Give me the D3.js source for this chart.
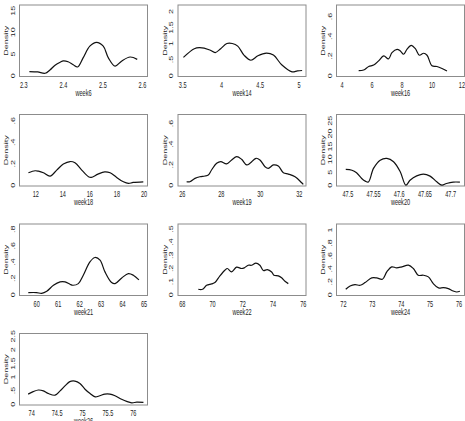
<!DOCTYPE html>
<html>
<head>
<meta charset="utf-8">
<script src="https://cdnjs.cloudflare.com/ajax/libs/d3/7.8.5/d3.min.js"></script>
<style>
  body { margin: 0; background: #fff; }
  text { font-family: 'Liberation Sans', Arial, sans-serif; font-size: 9px; fill: #222; }
</style>
</head>
<body>
<div id="chart"></div>
<script>
// panel names, in reading order
const weeks = ['week6', 'week14', 'week16', 'week18', 'week19', 'week20', 'week21', 'week22', 'week24', 'week26'];

// x range of each box and its tick marks
const xDomains = [[2.289, 2.613], [3.44, 5.09], [3.63, 12.17], [10.8, 20.26], [25.78, 32.34],
  [47.478, 47.727], [59.2, 65.16], [67.72, 76.18], [71.76, 76.19], [73.76, 76.28]];
const xTicks = [[2.3, 2.4, 2.5, 2.6], [3.5, 4, 4.5, 5], [4, 6, 8, 10, 12], [12, 14, 16, 18, 20], [26, 28, 30, 32],
  [47.5, 47.55, 47.6, 47.65, 47.7], [60, 61, 62, 63, 64, 65], [68, 70, 72, 74, 76], [72, 73, 74, 75, 76],
  [74, 74.5, 75, 75.5, 76]];

// top of each box (density) and y ticks
const yTops = [16.3, 2.2, 0.716, 0.658, 0.689, 27.4, 0.865, 0.538, 1.093, 2.6];
const yTicks = [[0, 5, 10, 15], [0, 0.5, 1, 1.5, 2], [0, 0.2, 0.4, 0.6], [0, 0.2, 0.4, 0.6], [0, 0.2, 0.4, 0.6],
  [0, 5, 10, 15, 20, 25], [0, 0.2, 0.4, 0.6, 0.8], [0, 0.1, 0.2, 0.3, 0.4, 0.5], [0, 0.2, 0.4, 0.6, 0.8, 1],
  [0, 0.5, 1, 1.5, 2, 2.5]];

// density curves
const w6x = [2.314, 2.335, 2.354, 2.366, 2.379, 2.392, 2.400, 2.412, 2.425, 2.436, 2.450, 2.467, 2.484, 2.501, 2.514, 2.531, 2.548, 2.569, 2.587];
const w6y = [0.95, 0.85, 0.55, 1.3, 2.4, 3.1, 3.4, 3.2, 2.5, 2.0, 4.1, 6.8, 7.7, 6.8, 4.1, 2.2, 3.4, 4.3, 3.75];

const w14x = [3.51, 3.65, 3.72, 3.85, 3.92, 3.99, 4.07, 4.14, 4.21, 4.29, 4.38, 4.47, 4.58, 4.67, 4.78, 4.91, 4.98, 5.04];
const w14y = [0.57, 0.84, 0.87, 0.80, 0.72, 0.84, 1.0, 1.0, 0.92, 0.64, 0.48, 0.62, 0.70, 0.64, 0.33, 0.12, 0.15, 0.16];

const w16x = [5.11, 5.44, 5.78, 6.11, 6.44, 6.78, 7.1, 7.33, 7.67, 7.89, 8.11, 8.33, 8.62, 8.89, 9.16, 9.44, 9.67, 10.0, 10.33, 10.67, 11.0];
const w16y = [0.05, 0.057, 0.093, 0.107, 0.15, 0.2, 0.17, 0.233, 0.267, 0.25, 0.217, 0.267, 0.307, 0.273, 0.207, 0.227, 0.207, 0.1, 0.093, 0.073, 0.047];

const w18x = [11.46, 11.95, 12.2, 12.57, 13.06, 13.55, 14.04, 14.54, 14.9, 15.4, 15.9, 16.1, 16.6, 17.1, 17.5, 17.98, 18.48, 18.85, 19.2, 19.95];
const w18y = [0.115, 0.134, 0.13, 0.115, 0.084, 0.14, 0.196, 0.22, 0.208, 0.14, 0.078, 0.072, 0.103, 0.124, 0.115, 0.072, 0.031, 0.016, 0.025, 0.031];

const w19x = [26.22, 26.39, 26.65, 26.9, 27.16, 27.33, 27.5, 27.76, 27.97, 28.27, 28.53, 28.79, 29.04, 29.3, 29.47, 29.78, 29.98, 30.24, 30.41, 30.67, 30.92, 31.18, 31.44, 31.78, 32.12, 32.2];
const w19y = [0.033, 0.033, 0.066, 0.082, 0.089, 0.098, 0.148, 0.213, 0.23, 0.207, 0.246, 0.279, 0.252, 0.197, 0.213, 0.262, 0.246, 0.18, 0.164, 0.197, 0.187, 0.121, 0.108, 0.082, 0.023, 0.007];

const w20x = [47.496, 47.508, 47.517, 47.527, 47.534, 47.540, 47.550, 47.563, 47.576, 47.589, 47.602, 47.613, 47.621, 47.634, 47.647, 47.660, 47.673, 47.683, 47.692, 47.705, 47.718];
const w20y = [6.1, 5.8, 4.8, 2.6, 1.55, 1.2, 6.5, 9.7, 10.4, 9.1, 5.2, 0, 1.9, 3.6, 4.3, 3.5, 1.3, 0, 0.65, 1.17, 1.17];

const w21x = [59.61, 60.0, 60.23, 60.47, 60.78, 61.09, 61.32, 61.55, 61.68, 61.94, 62.17, 62.48, 62.72, 62.95, 63.18, 63.49, 63.65, 63.96, 64.27, 64.5, 64.76];
const w21y = [0.025, 0.025, 0.016, 0.041, 0.115, 0.156, 0.156, 0.127, 0.115, 0.135, 0.238, 0.402, 0.455, 0.422, 0.279, 0.148, 0.135, 0.205, 0.258, 0.238, 0.18];

const w22x = [69.06, 69.34, 69.61, 69.94, 70.16, 70.49, 70.82, 70.98, 71.26, 71.59, 71.92, 72.1, 72.36, 72.58, 72.87, 73.13, 73.36, 73.62, 73.91, 74.06, 74.35, 74.57, 74.79, 75.01];
const w22y = [0.041, 0.041, 0.071, 0.082, 0.092, 0.143, 0.186, 0.199, 0.173, 0.209, 0.199, 0.204, 0.224, 0.224, 0.24, 0.224, 0.184, 0.191, 0.173, 0.148, 0.143, 0.128, 0.102, 0.084];

const w24x = [72.08, 72.23, 72.4, 72.58, 72.75, 72.98, 73.15, 73.35, 73.5, 73.67, 73.84, 74.02, 74.25, 74.42, 74.59, 74.77, 74.94, 75.11, 75.29, 75.46, 75.63, 75.8, 75.92, 76.03];
const w24y = [0.083, 0.135, 0.155, 0.145, 0.187, 0.259, 0.259, 0.238, 0.352, 0.43, 0.415, 0.43, 0.456, 0.404, 0.3, 0.3, 0.275, 0.171, 0.104, 0.109, 0.093, 0.057, 0.041, 0.052];

const w26x = [73.93, 74.03, 74.13, 74.23, 74.33, 74.46, 74.56, 74.66, 74.75, 74.85, 74.95, 75.05, 75.15, 75.25, 75.34, 75.44, 75.54, 75.64, 75.77, 75.87, 75.97, 76.07, 76.2];
const w26y = [0.37, 0.46, 0.52, 0.49, 0.39, 0.33, 0.49, 0.68, 0.83, 0.85, 0.76, 0.55, 0.39, 0.27, 0.31, 0.37, 0.37, 0.31, 0.18, 0.1, 0.05, 0.074, 0.062];

const curvesX = [w6x, w14x, w16x, w18x, w19x, w20x, w21x, w22x, w24x, w26x];
const curvesY = [w6y, w14y, w16y, w18y, w19y, w20y, w21y, w22y, w24y, w26y];

const width = 465;
const height = 421;
const colLeft = [19.5, 178, 336.5];
const rowTop = [5, 114.5, 224, 333.5];
const boxW = 128;
const boxH = 71.5;
const squeeze = 0.62; // text in the picture is narrow

const fmt = (v) => String(v).replace(/^0\./, '.');

const svg = d3.select('#chart')
  .append('svg')
  .attr('width', width)
  .attr('height', height);

weeks.forEach((name, i) => {
  const left = colLeft[i % 3];
  const top = rowTop[Math.floor(i / 3)];
  const bottom = top + boxH;

  const x = d3.scaleLinear()
    .domain(xDomains[i])
    .range([left, left + boxW]);

  const y = d3.scaleLinear()
    .domain([-yTops[i] * 0.012, yTops[i]])
    .range([bottom, top]);

  const g = svg.append('g');

  g.append('rect')
    .attr('x', left)
    .attr('y', top)
    .attr('width', boxW)
    .attr('height', boxH)
    .attr('fill', 'none')
    .attr('stroke', '#8c8c8c')
    .attr('stroke-width', 1);

  const pts = curvesX[i].map((v, k) => [v, curvesY[i][k]]);
  g.append('path')
    .datum(pts)
    .attr('fill', 'none')
    .attr('stroke', '#111')
    .attr('stroke-width', 1.2)
    .attr('d', d3.line()
      .x((d) => x(d[0]))
      .y((d) => y(d[1]))
      .curve(d3.curveCatmullRom.alpha(0.5)));

  g.selectAll('.xt')
    .data(xTicks[i])
    .enter()
    .append('text')
      .attr('text-anchor', 'middle')
      .attr('transform', (d) => `translate(${x(d)},${bottom + 11}) scale(${squeeze},1)`)
      .text(fmt);

  g.selectAll('.yt')
    .data(yTicks[i])
    .enter()
    .append('text')
      .attr('text-anchor', 'middle')
      .attr('transform', (d) => `translate(${left - 5},${y(d)}) scale(${squeeze},1) rotate(-90)`)
      .text(fmt);

  g.append('text')
    .attr('text-anchor', 'middle')
    .attr('transform', `translate(${left + boxW / 2},${bottom + 19}) scale(${squeeze},1)`)
    .text(name);

  g.append('text')
    .attr('text-anchor', 'middle')
    .attr('transform', `translate(${left - 11.5},${top + boxH / 2}) scale(${squeeze},1) rotate(-90)`)
    .text('Density');
});
</script>
</body>
</html>
